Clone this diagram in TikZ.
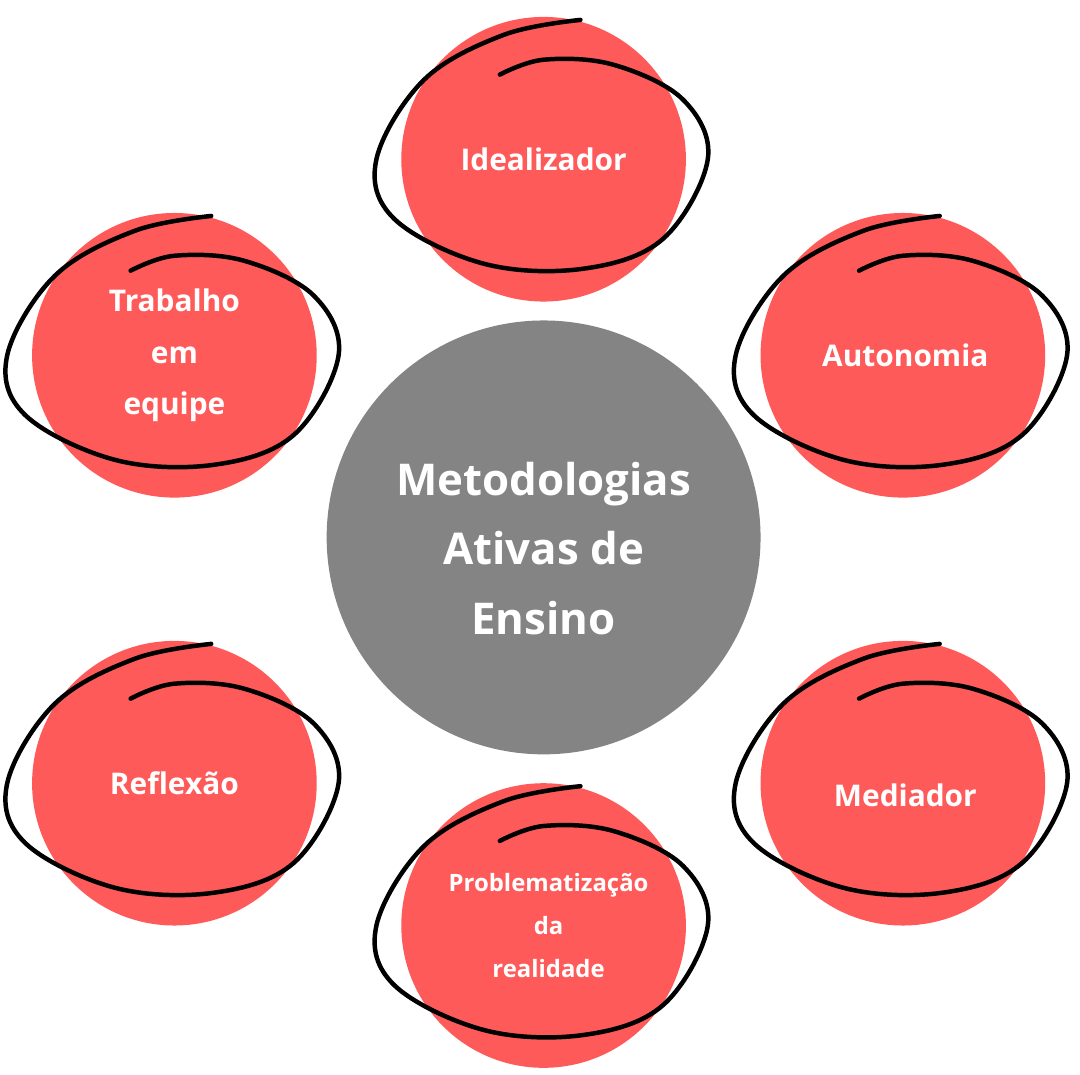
\documentclass[tikz,border=0pt]{standalone}
\usepackage{fontspec}
\setmainfont{Open Sans}
\begin{document}
\begin{tikzpicture}[x=1pt,y=-1pt,
  red/.style={circle,fill=red!60!orange!80!white,draw=none,minimum size=286pt,inner sep=0pt},
  lbl/.style={text=white,font=\bfseries\fontsize{30}{52}\selectfont,align=center},
  scrib/.style={line width=4.5pt,line cap=round}]
\definecolor{cred}{HTML}{FF5A5A}
\definecolor{cgray}{HTML}{848484}
\fill[white] (0,0) rectangle (1080,1080);
\node[circle,fill=cgray,minimum size=436pt,inner sep=0pt] (c) at (541,540) {};
\node[text=white,font=\bfseries\fontsize{44}{70}\selectfont,align=center] (ct) at (541,551) {Metodologias\\Ativas de\\Ensino};
\newcommand{\bub}[5]{%
  \node[red,fill=cred] (#1) at (#2,#3) {};
  \begin{scope}[shift={(#2,#3)}]
  \draw[scrib] plot[smooth,tension=0.6] coordinates {(37,-140) (-40,-125) (-120,-80) (-168,0) (-150,60) (-60,105) (40,110) (120,80) (165,0) (140,-60) (70,-95) (0,-100) (-44,-85)};
  \end{scope}
  \node[lbl] at (#2,#3+#4) {#5};}
\bub{i}{541}{160}{0}{Idealizador}
\bub{t}{170}{357}{0}{Trabalho\\em\\equipe}
\bub{a}{902}{357}{0}{\,Autonomia}
\bub{r}{170}{787}{0}{Reflexão}
\bub{m}{902}{787}{12}{\,Mediador}
\node[red,fill=cred] (p) at (541,930) {};
\begin{scope}[shift={(541,930)}]
\draw[scrib] plot[smooth,tension=0.6] coordinates {(37,-140) (-40,-125) (-120,-80) (-168,0) (-150,60) (-60,105) (40,110) (120,80) (165,0) (140,-60) (70,-95) (0,-100) (-44,-85)};
\end{scope}
\node[text=white,font=\bfseries\fontsize{24}{43}\selectfont,align=center] (pt) at (546,930) {Problematização\\da\\realidade};
\end{tikzpicture}
\end{document}
